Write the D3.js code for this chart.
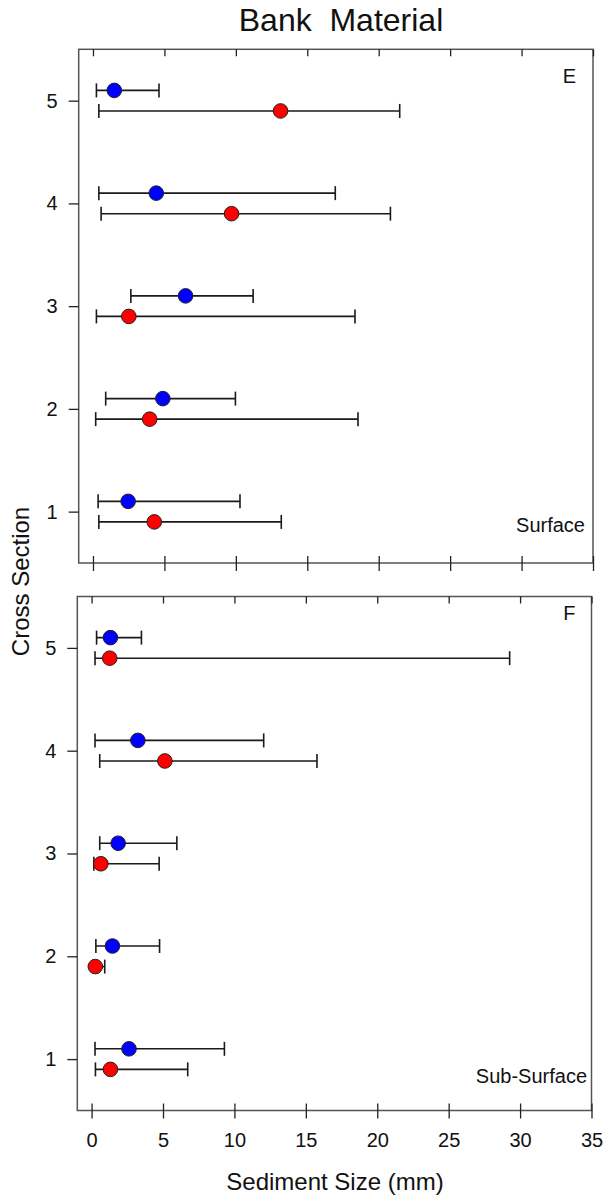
<!DOCTYPE html>
<html>
<head>
<meta charset="utf-8">
<script src="https://cdn.jsdelivr.net/npm/d3@7"></script>
<style>
	body { margin: 0; background: #fff; }
	text { font-family: Arial, "Liberation Sans", sans-serif; fill: #111; }
</style>
</head>
<body>
<script>
// * Data
const crossSections = [1, 2, 3, 4, 5];
const xTicks = [0, 5, 10, 15, 20, 25, 30, 35];

// panel E - surface
const surfBlueMean = [2.46, 4.89, 6.48, 4.43, 1.49];
const surfBlueLow = [0.36, 0.89, 2.65, 0.41, 0.24];
const surfBlueHigh = [10.29, 9.97, 11.21, 16.96, 4.62];
const surfRedMean = [4.29, 3.97, 2.51, 9.7, 13.13];
const surfRedLow = [0.41, 0.19, 0.24, 0.57, 0.41];
const surfRedHigh = [13.18, 18.55, 18.34, 20.82, 21.47];

// panel F - sub-surface
const subBlueMean = [2.62, 1.46, 1.86, 3.24, 1.32];
const subBlueLow = [0.24, 0.3, 0.57, 0.24, 0.35];
const subBlueHigh = [9.3, 4.76, 5.97, 12.05, 3.49];
const subRedMean = [1.32, 0.26, 0.65, 5.13, 1.27];
const subRedLow = [0.27, 0.1, 0.16, 0.57, 0.24];
const subRedHigh = [6.73, 0.92, 4.73, 15.78, 29.27];

// * Size
const width = 605;
const height = 1198;

const svg = d3
	.select("body")
	.append("svg")
	.attr("width", width)
	.attr("height", height);

// build rows for each panel
function rows(mean, low, high, offset, color) {
	return crossSections.map((c, i) => ({
		cs: c + offset,
		mean: mean[i],
		low: low[i],
		high: high[i],
		color: color,
	}));
}

const panels = [
	{
		left: 78.7, right: 593, top: 49.3, bottom: 563,
		letter: "E", letterX: 576, letterY: 83,
		label: "Surface", labelX: 585, labelY: 532,
		showLabels: false,
		data: [
			...rows(surfBlueMean, surfBlueLow, surfBlueHigh, 0.1, "#0000ff"),
			...rows(surfRedMean, surfRedLow, surfRedHigh, -0.1, "#ff0000"),
		],
	},
	{
		left: 77.3, right: 591.5, top: 596.5, bottom: 1110.5,
		letter: "F", letterX: 575.5, letterY: 620,
		label: "Sub-Surface", labelX: 587, labelY: 1082.5,
		showLabels: true,
		data: [
			...rows(subBlueMean, subBlueLow, subBlueHigh, 0.1, "#0000ff"),
			...rows(subRedMean, subRedLow, subRedHigh, -0.1, "#ff0000"),
		],
	},
];

panels.forEach((p) => {
	const x = d3.scaleLinear().domain([-1, 35]).range([p.left, p.right]);
	const y = d3.scaleLinear().domain([0.5, 5.5]).range([p.bottom, p.top]);

	const g = svg.append("g");

	// * frame
	g.append("rect")
		.attr("x", p.left)
		.attr("y", p.top)
		.attr("width", p.right - p.left)
		.attr("height", p.bottom - p.top)
		.attr("fill", "none")
		.attr("stroke", "#555")
		.attr("stroke-width", 1.5);

	// * Y axis
	const yAxis = g.append("g")
		.attr("transform", `translate(${p.left},0)`)
		.call(d3.axisLeft(y).tickValues(crossSections).tickFormat(d3.format("d"))
			.tickSize(10).tickPadding(11));
	yAxis.select(".domain").remove();
	yAxis.selectAll(".tick line").attr("stroke", "#222").attr("stroke-width", 1.3);
	yAxis.selectAll(".tick text")
		.attr("font-size", "20px")
		.attr("font-family", null)
		.attr("fill", "#111");

	// * X axis, top (ticks inward)
	const topAxis = g.append("g")
		.attr("transform", `translate(0,${p.top})`)
		.call(d3.axisBottom(x).tickValues(xTicks).tickSize(7).tickFormat(""));
	topAxis.select(".domain").remove();
	topAxis.selectAll(".tick line").attr("stroke", "#222").attr("stroke-width", 1.3);

	// * X axis, bottom (ticks cross the line)
	const bottomAxis = g.append("g")
		.attr("transform", `translate(0,${p.bottom})`)
		.call(d3.axisBottom(x).tickValues(xTicks).tickSize(8)
			.tickFormat(p.showLabels ? d3.format("d") : ""));
	bottomAxis.select(".domain").remove();
	bottomAxis.selectAll(".tick line")
		.attr("y1", -7)
		.attr("stroke", "#222")
		.attr("stroke-width", 1.3);
	bottomAxis.selectAll(".tick text")
		.attr("y", 36)
		.attr("dy", null)
		.attr("font-size", "20px")
		.attr("font-family", null)
		.attr("fill", "#111");

	// * error bars
	const bars = g.selectAll(".bar")
		.data(p.data)
		.join("g")
		.attr("class", "bar")
		.attr("stroke", "#1a1a1a")
		.attr("stroke-width", 1.6);

	bars.append("line")
		.attr("x1", (d) => x(d.low))
		.attr("x2", (d) => x(d.high))
		.attr("y1", (d) => y(d.cs))
		.attr("y2", (d) => y(d.cs));
	bars.append("line")
		.attr("x1", (d) => x(d.low))
		.attr("x2", (d) => x(d.low))
		.attr("y1", (d) => y(d.cs) - 7)
		.attr("y2", (d) => y(d.cs) + 7);
	bars.append("line")
		.attr("x1", (d) => x(d.high))
		.attr("x2", (d) => x(d.high))
		.attr("y1", (d) => y(d.cs) - 7)
		.attr("y2", (d) => y(d.cs) + 7);

	// * points
	g.selectAll(".pt")
		.data(p.data)
		.join("circle")
		.attr("class", "pt")
		.attr("cx", (d) => x(d.mean))
		.attr("cy", (d) => y(d.cs))
		.attr("r", 7.3)
		.attr("fill", (d) => d.color)
		.attr("stroke", "#222")
		.attr("stroke-width", 1);

	// * panel texts
	g.append("text")
		.attr("x", p.letterX)
		.attr("y", p.letterY)
		.attr("text-anchor", "end")
		.attr("font-size", "20px")
		.text(p.letter);
	g.append("text")
		.attr("x", p.labelX)
		.attr("y", p.labelY)
		.attr("text-anchor", "end")
		.attr("font-size", "20px")
		.text(p.label);
});

// * titles
svg.append("text")
	.attr("x", 341)
	.attr("y", 31)
	.attr("text-anchor", "middle")
	.attr("font-size", "32px")
	.style("white-space", "pre")
	.text("Bank  Material");

svg.append("text")
	.attr("x", 335)
	.attr("y", 1190)
	.attr("text-anchor", "middle")
	.attr("font-size", "24px")
	.text("Sediment Size (mm)");

svg.append("text")
	.attr("transform", "translate(28.5,581.5) rotate(-90)")
	.attr("text-anchor", "middle")
	.attr("font-size", "24px")
	.text("Cross Section");
</script>
</body>
</html>
